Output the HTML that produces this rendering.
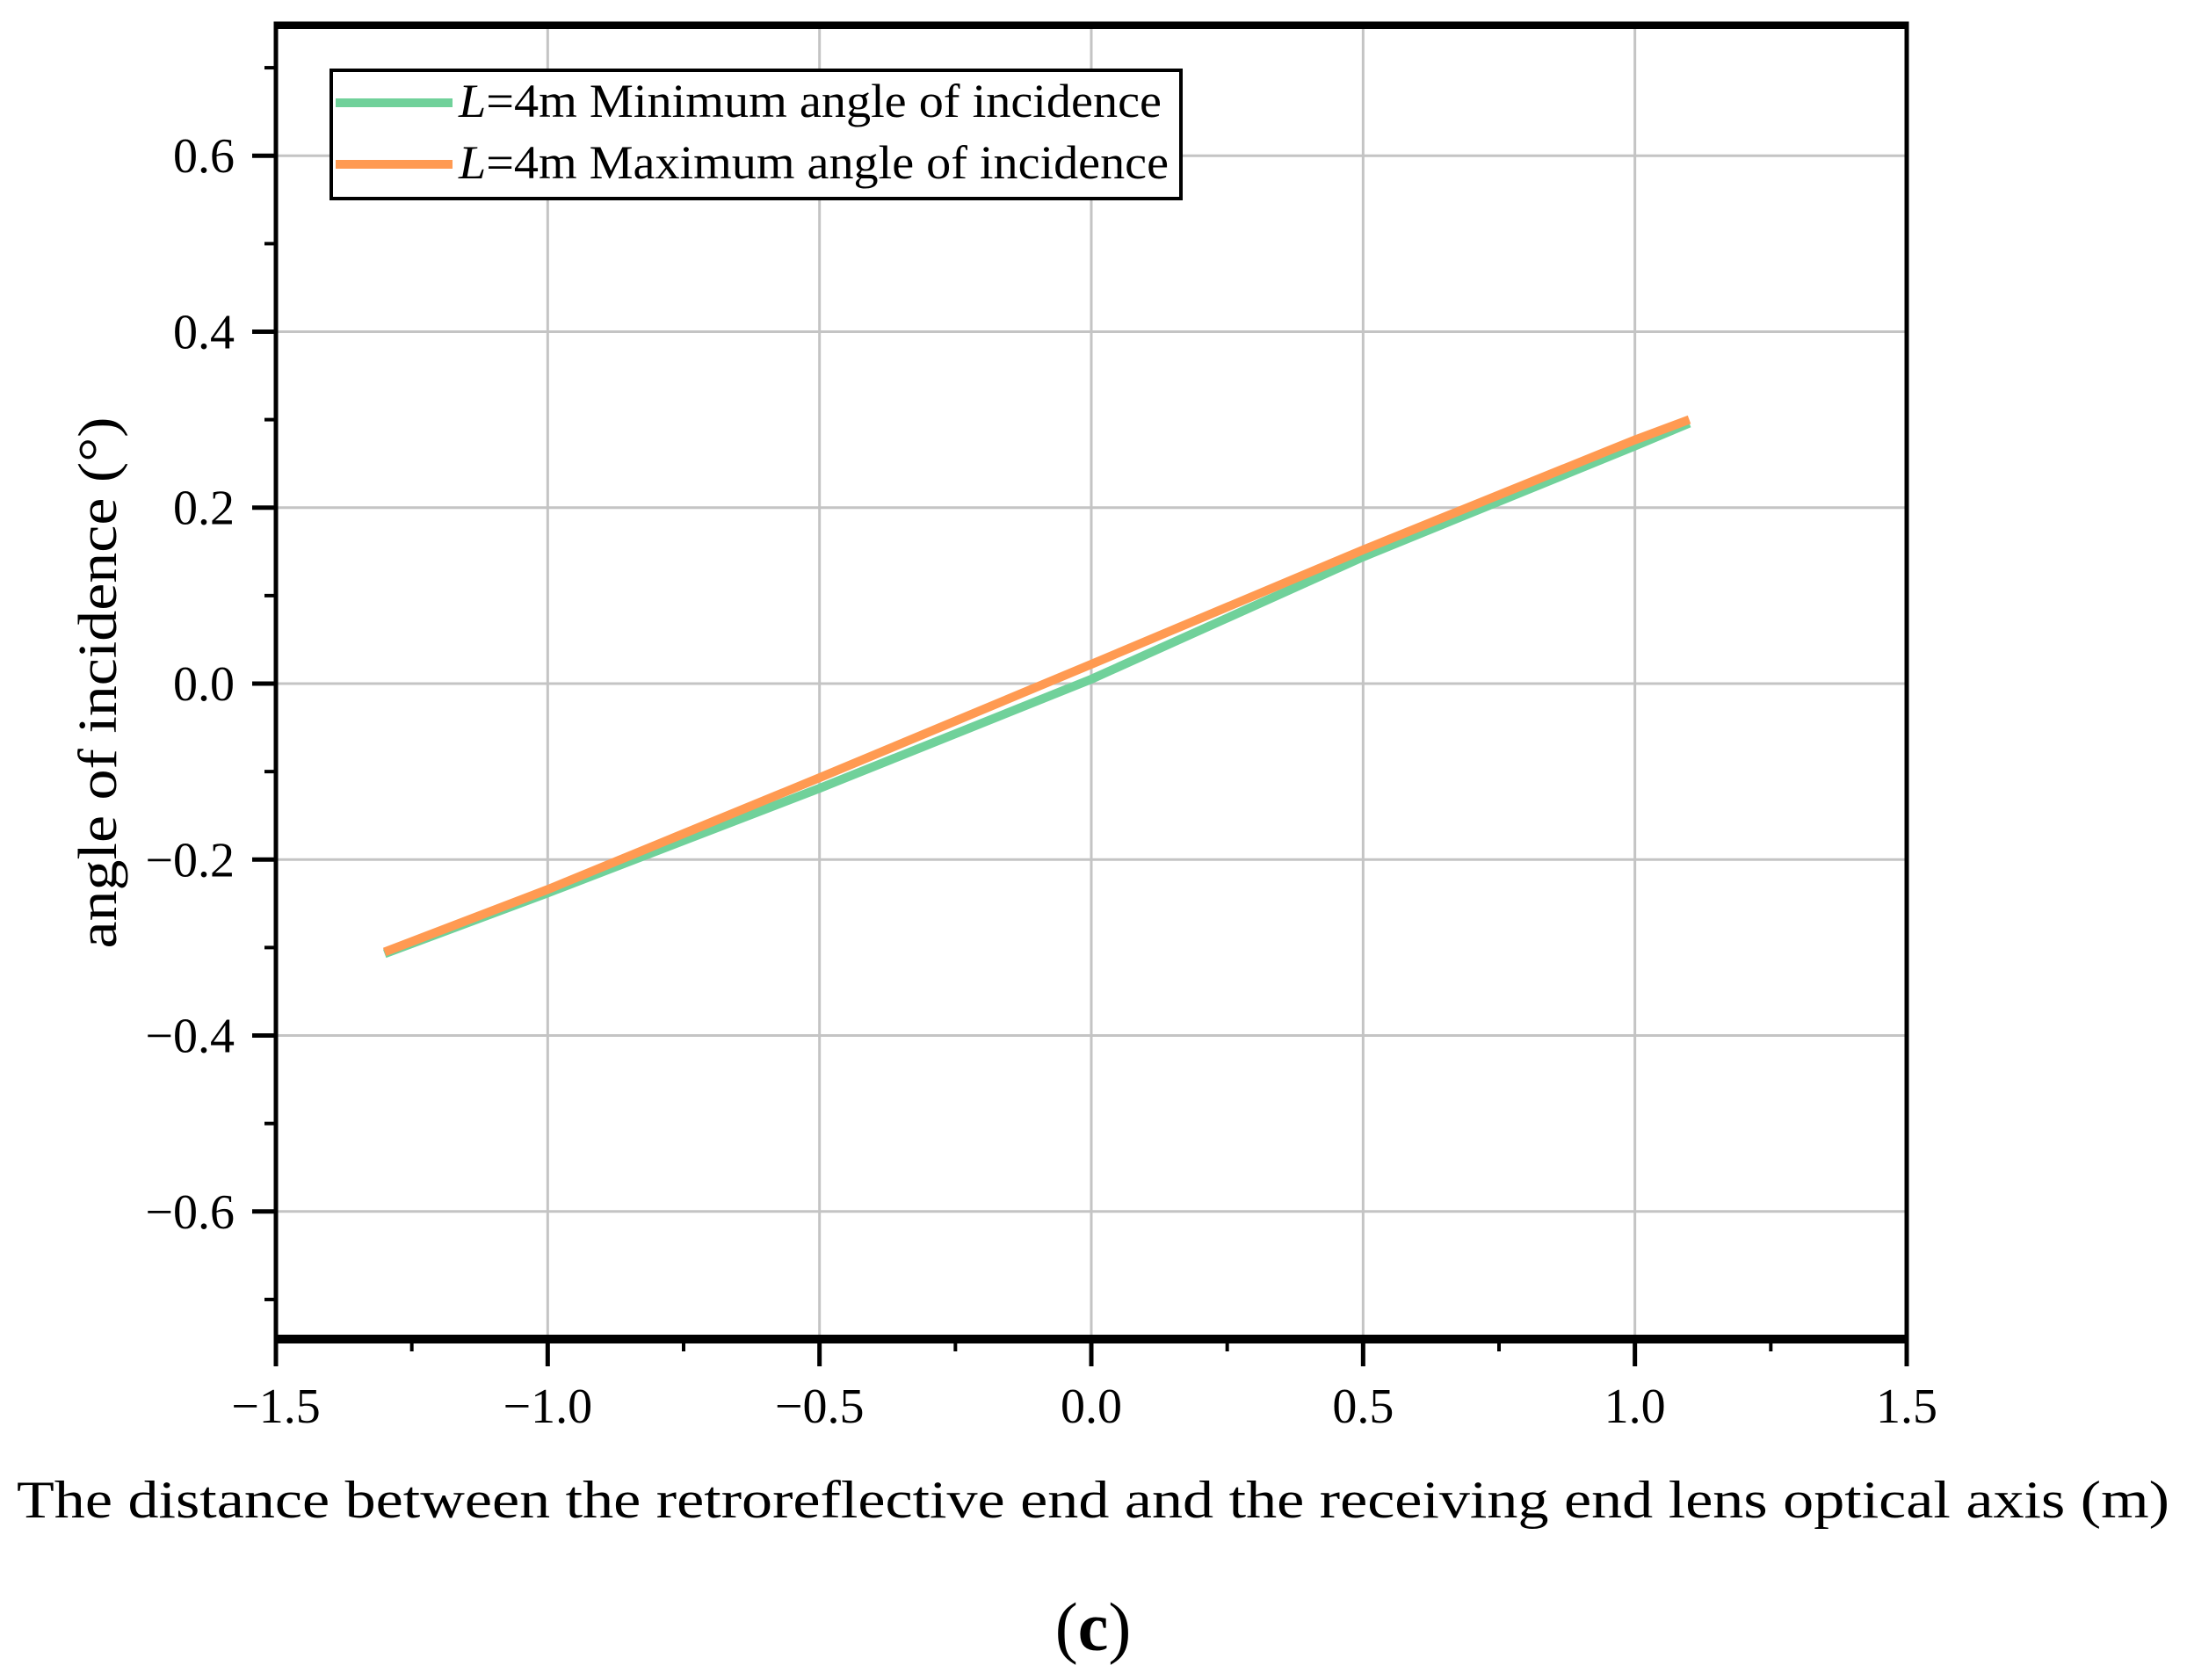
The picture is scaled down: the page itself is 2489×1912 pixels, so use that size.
<!DOCTYPE html>
<html><head><meta charset="utf-8"><style>
html,body{margin:0;padding:0;background:#fff;}
svg{display:block;font-family:"Liberation Serif",serif;}
</style></head><body>
<svg id="chart" width="2489" height="1912" viewBox="0 0 2489 1912" xmlns="http://www.w3.org/2000/svg">
<g id="grid"></g>
<g id="series"></g>
<g id="axes"></g>
<g>
<rect x="377" y="80" width="967" height="146" fill="#fff" stroke="#000" stroke-width="4"/>
<line x1="382" y1="117" x2="515" y2="117" stroke="#70d19a" stroke-width="10"/>
<text x="522" y="133" font-size="54" textLength="800" lengthAdjust="spacingAndGlyphs"><tspan font-style="italic">L</tspan>=4m Minimum angle of incidence</text>
<line x1="382" y1="187" x2="515" y2="187" stroke="#ff9a52" stroke-width="10"/>
<text x="522" y="203" font-size="54" textLength="808" lengthAdjust="spacingAndGlyphs"><tspan font-style="italic">L</tspan>=4m Maximum angle of incidence</text>
</g>
<text x="1244" y="1727" font-size="60" text-anchor="middle" textLength="2450" lengthAdjust="spacingAndGlyphs">The distance between the retroreflective end and the receiving end lens optical axis (m)</text>
<text transform="translate(132,777) rotate(-90)" font-size="62" text-anchor="middle" textLength="605" lengthAdjust="spacingAndGlyphs">angle of incidence (°)</text>
<text x="1244" y="1878" font-size="78" text-anchor="middle">(<tspan font-weight="bold">c</tspan>)</text>
</svg>
<script>
const xTicks=[-1.5,-1.0,-0.5,0.0,0.5,1.0,1.5];
const xTickLabels=["\u22121.5","\u22121.0","\u22120.5","0.0","0.5","1.0","1.5"];
const yTicks=[-0.6,-0.4,-0.2,0.0,0.2,0.4,0.6];
const yTickLabels=["\u22120.6","\u22120.4","\u22120.2","0.0","0.2","0.4","0.6"];
const xVals=[-1.3,-1.0,-0.5,0.0,0.5,1.0,1.1];
const minAngle=[-0.307,-0.238,-0.119,0.005,0.144,0.270,0.296];
const maxAngle=[-0.305,-0.234,-0.107,0.022,0.152,0.277,0.300];
const L=314,R=2170,T=27,B=1524,xmin=-1.5,xmax=1.5,ymin=-0.745,ymax=0.75;
const sx=v=>L+(v-xmin)/(xmax-xmin)*(R-L);
const sy=v=>B-(v-ymin)/(ymax-ymin)*(B-T);
const NS="http://www.w3.org/2000/svg";
function mk(tag,attrs,parent){const e=document.createElementNS(NS,tag);for(const k in attrs)e.setAttribute(k,attrs[k]);parent.appendChild(e);return e;}
const grid=document.getElementById('grid'),axes=document.getElementById('axes'),ser=document.getElementById('series');
xTicks.forEach((t,i)=>{
  const x=sx(t);
  if(i>0&&i<xTicks.length-1){const g=mk('line',{x1:x,x2:x,y1:T,y2:B,stroke:'#c4c4c4','stroke-width':3},grid);
  
  }
  const tk=mk('line',{x1:x,x2:x,y1:B,y2:B+31,stroke:'#000','stroke-width':5},axes);
  
  
  const lb=mk('text',{x:x,y:1619,'font-size':56,'text-anchor':'middle'},axes);lb.textContent=xTickLabels[i];
  
  
  if(i<xTicks.length-1){const mx=sx(t+0.25);const m=mk('line',{x1:mx,x2:mx,y1:B,y2:B+14,stroke:'#000','stroke-width':4},axes);
  
  }
});
yTicks.forEach((t,i)=>{
  const y=sy(t);
  const g=mk('line',{x1:L,x2:R,y1:y,y2:y,stroke:'#c4c4c4','stroke-width':3},grid);
  
  
  const tk=mk('line',{x1:L-27,x2:L,y1:y,y2:y,stroke:'#000','stroke-width':5},axes);
  
  
  const lb=mk('text',{x:267,y:y+19,'font-size':56,'text-anchor':'end'},axes);lb.textContent=yTickLabels[i];
  
  
});
[-0.7,-0.5,-0.3,-0.1,0.1,0.3,0.5,0.7].forEach(t=>{const y=sy(t);const m=mk('line',{x1:L-13,x2:L,y1:y,y2:y,stroke:'#000','stroke-width':4},axes);
  
  });
[[minAngle,'#70d19a','series-minimum-angle'],[maxAngle,'#ff9a52','series-maximum-angle']].forEach(([arr,c,n])=>{
  const p=mk('polyline',{points:xVals.map((x,i)=>sx(x)+','+sy(arr[i])).join(' '),fill:'none',stroke:c,'stroke-width':10},ser);
  
  
});
const f=mk('path',{d:`M${L} ${B} V${T} H${R} V${B} Z`,fill:'none',stroke:'#000','stroke-width':5},axes);


const tb=mk('line',{x1:L,x2:R,y1:T+2,y2:T+2,stroke:'#000','stroke-width':8},axes);


const bb=mk('line',{x1:L,x2:R,y1:B,y2:B,stroke:'#000','stroke-width':10},axes);


</script>
</body></html>
